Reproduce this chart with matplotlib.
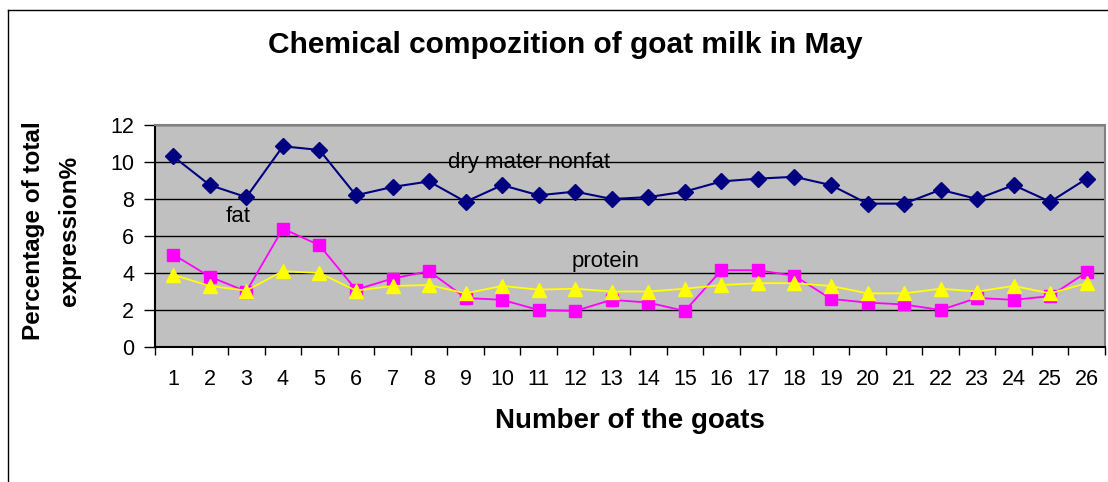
import matplotlib
matplotlib.use('Agg')
import matplotlib.pyplot as plt
from matplotlib.lines import Line2D
import numpy as np

plt.rcParams['font.family'] = ['Liberation Sans', 'DejaVu Sans']

# data
goats = list(range(1, 27))
dry_matter = [10.3, 8.75, 8.1, 10.85, 10.65, 8.2, 8.65, 8.95, 7.85, 8.75, 8.2, 8.4, 8.0,
              8.1, 8.4, 8.95, 9.1, 9.2, 8.75, 7.75, 7.75, 8.5, 8.0, 8.75, 7.85, 9.1]
fat = [5.0, 3.8, 3.0, 6.4, 5.5, 3.1, 3.7, 4.1, 2.65, 2.55, 2.0, 1.95, 2.55,
       2.4, 1.95, 4.15, 4.15, 3.85, 2.6, 2.4, 2.3, 2.0, 2.65, 2.55, 2.75, 4.05]
protein = [3.9, 3.3, 3.05, 4.1, 4.0, 3.05, 3.3, 3.35, 2.9, 3.3, 3.1, 3.15, 3.0,
           3.0, 3.15, 3.35, 3.45, 3.45, 3.3, 2.9, 2.9, 3.15, 3.0, 3.3, 2.9, 3.45]
y_ticks = [0, 2, 4, 6, 8, 10, 12]

W, H = 1108, 482
fig = plt.figure(figsize=(W / 100, H / 100), dpi=100)

# outer chart frame (only left and top visible)
fig.add_artist(Line2D([8 / W, 8 / W], [0, 1 - 10 / H], color='black', lw=1))
fig.add_artist(Line2D([8 / W, 1], [1 - 10 / H, 1 - 10 / H], color='black', lw=1))

ax = fig.add_axes([155 / W, (H - 347) / H, 950 / W, 222 / H])
ax.set_facecolor('#C0C0C0')

ax.plot(goats, dry_matter, color='#000080', marker='D', markersize=8.5, lw=1.5)
ax.plot(goats, fat, color='#FF00FF', marker='s', markersize=8.5, lw=1.3)
ax.plot(goats, protein, color='#FFFF00', marker='^', markersize=10.5, lw=1.3)

ax.set_xlim(0.5, 26.5)
ax.set_ylim(0, 12)
ax.set_yticks(y_ticks)
ax.set_yticklabels([str(v) for v in y_ticks], fontsize=15.5)
ax.grid(axis='y', color='black', lw=1)
ax.set_axisbelow(True)

# ticks at category boundaries, labels at centres
ax.set_xticks(np.arange(0.5, 27, 1))
ax.set_xticklabels([])
ax.set_xticks(goats, minor=True)
ax.set_xticklabels([str(g) for g in goats], minor=True, fontsize=15.5)
ax.tick_params(axis='x', which='major', length=6, width=1, direction='out')
ax.tick_params(axis='x', which='minor', length=0, pad=16)
ax.tick_params(axis='y', length=8, width=1, pad=7)

ax.spines['left'].set_linewidth(1.5)
ax.spines['bottom'].set_linewidth(1.5)
ax.spines['top'].set_color('#808080')
ax.spines['right'].set_color('#808080')
ax.spines['top'].set_linewidth(1.5)
ax.spines['right'].set_linewidth(1.5)

# series labels inside the plot
ax.text(8.52, 9.95, 'dry mater nonfat', fontsize=16, ha='left', va='center')
ax.text(2.42, 7.05, 'fat', fontsize=16, ha='left', va='center')
ax.text(11.9, 4.6, 'protein', fontsize=16, ha='left', va='center')

fig.text(565 / W, 1 - 45 / H, 'Chemical compozition of goat milk in May',
         fontsize=21.5, fontweight='bold', ha='center', va='center')
fig.text(630 / W, 1 - 421 / H, 'Number of the goats',
         fontsize=20, fontweight='bold', ha='center', va='center')
fig.text(34 / W, 1 - 231 / H, 'Percentage of total', rotation=90,
         fontsize=17.5, fontweight='bold', ha='center', va='center')
fig.text(70 / W, 1 - 231 / H, 'expression%', rotation=90,
         fontsize=17.5, fontweight='bold', ha='center', va='center')

fig.savefig('out.png', dpi=100)
